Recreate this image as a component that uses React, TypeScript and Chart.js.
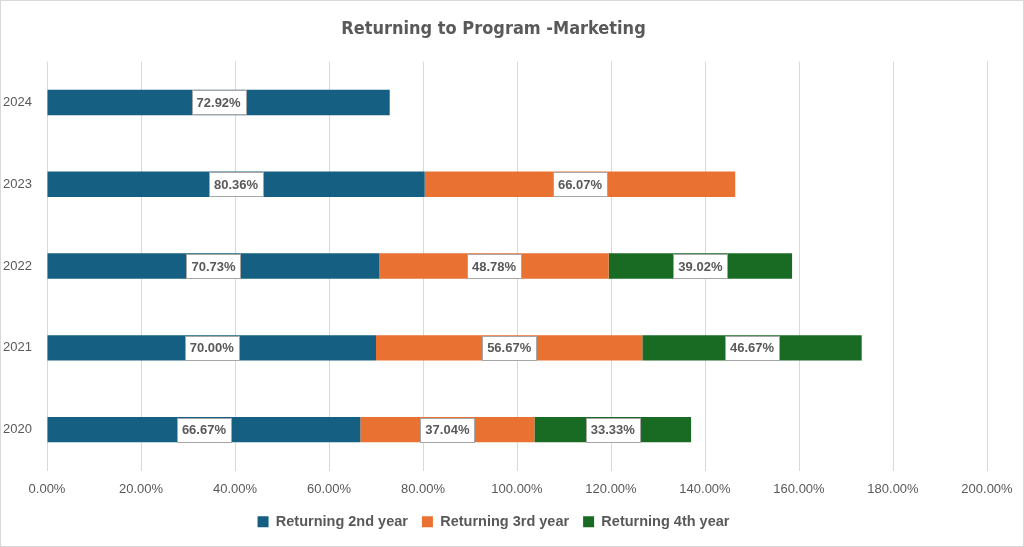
import React, { useEffect, useRef } from "react";
import { Chart, registerables } from "chart.js";

Chart.register(...registerables);

const years = ["2024", "2023", "2022", "2021", "2020"];
const secondYear = [72.92, 80.36, 70.73, 70.0, 66.67];
const thirdYear = [null, 66.07, 48.78, 56.67, 37.04];
const fourthYear = [null, null, 39.02, 46.67, 33.33];
const xTicks = [0, 20, 40, 60, 80, 100, 120, 140, 160, 180, 200];

const TEXT = "#595959";
const BLUE = "#156082";
const ORANGE = "#E97132";
const GREEN = "#196B24";
const SANS = "'Liberation Sans', Arial, sans-serif";

// Draws each segment's value in a white box centred on the segment
const boxedLabels = {
  id: "boxedLabels",
  afterDatasetsDraw(chart: any) {
    const ctx = chart.ctx;
    ctx.save();
    ctx.font = `bold 13px ${SANS}`;
    ctx.textAlign = "center";
    ctx.textBaseline = "middle";
    chart.data.datasets.forEach((ds: any, di: number) => {
      const meta = chart.getDatasetMeta(di);
      meta.data.forEach((bar: any, i: number) => {
        const v = ds.data[i];
        if (v == null || v === 0) return;
        const text = v.toFixed(2) + "%";
        const cx = (bar.x + bar.base) / 2;
        const cy = bar.y;
        const w = Math.round(ctx.measureText(text).width + 10);
        const h = 24;
        const left = Math.round(cx - w / 2) + 0.5;
        const top = Math.round(cy - h / 2) + 0.5;
        ctx.fillStyle = "#ffffff";
        ctx.fillRect(left, top, w, h);
        ctx.strokeStyle = "#a6a6a6";
        ctx.lineWidth = 1;
        ctx.strokeRect(left, top, w, h);
        ctx.fillStyle = TEXT;
        ctx.fillText(text, cx, cy + 1);
      });
    });
    ctx.restore();
  },
};

export default function App() {
  const canvasRef = useRef<HTMLCanvasElement | null>(null);

  useEffect(() => {
    document.body.style.margin = "0";
    const canvas = canvasRef.current;
    if (!canvas) return;
    const chart = new Chart(canvas, {
      type: "bar",
      data: {
        labels: years,
        datasets: [
          { label: "Returning 2nd year", data: secondYear, backgroundColor: BLUE },
          { label: "Returning 3rd year", data: thirdYear, backgroundColor: ORANGE },
          { label: "Returning 4th year", data: fourthYear, backgroundColor: GREEN },
        ],
      },
      options: {
        indexAxis: "y",
        animation: false,
        responsive: true,
        maintainAspectRatio: false,
        layout: { padding: { left: 0, right: 37, top: 0, bottom: 8 } },
        datasets: {
          bar: { categoryPercentage: 1, barPercentage: 0.31 },
        },
        scales: {
          x: {
            stacked: true,
            min: 0,
            max: 200,
            afterBuildTicks: (scale: any) => {
              scale.ticks = xTicks.map((v) => ({ value: v }));
            },
            afterFit: (scale: any) => {
              scale.height = 30;
            },
            ticks: {
              color: TEXT,
              font: { family: SANS, size: 13 },
              padding: 11,
              callback: (v: any) => Number(v).toFixed(2) + "%",
            },
            grid: { color: "#d9d9d9", drawTicks: false },
            border: { display: false },
          },
          y: {
            stacked: true,
            ticks: {
              color: TEXT,
              font: { family: SANS, size: 13 },
              padding: 15,
            },
            grid: { display: false, drawTicks: false },
            border: { display: false },
            afterFit: (scale: any) => {
              scale.width = 47;
            },
          },
        },
        plugins: {
          title: {
            display: true,
            text: "Returning to Program -Marketing",
            color: TEXT,
            font: { family: "'DejaVu Sans Condensed', 'Liberation Sans Narrow', sans-serif", size: 18, weight: "bold" },
            padding: { top: 19, bottom: 21 },
          },
          legend: {
            position: "bottom",
            labels: {
              color: TEXT,
              boxWidth: 11,
              boxHeight: 11,
              padding: 14,
              font: { family: SANS, size: 14.5, weight: "bold" },
            },
          },
          tooltip: { enabled: false },
        },
      },
      plugins: [boxedLabels],
    });
    return () => chart.destroy();
  }, []);

  return (
    <div style={{ position: "absolute", left: 0, top: 0, width: 1024, height: 547, background: "#fff" }}>
      <canvas ref={canvasRef} />
      <div
        style={{
          position: "absolute",
          inset: 0,
          border: "1px solid #d9d9d9",
          pointerEvents: "none",
        }}
      />
    </div>
  );
}
